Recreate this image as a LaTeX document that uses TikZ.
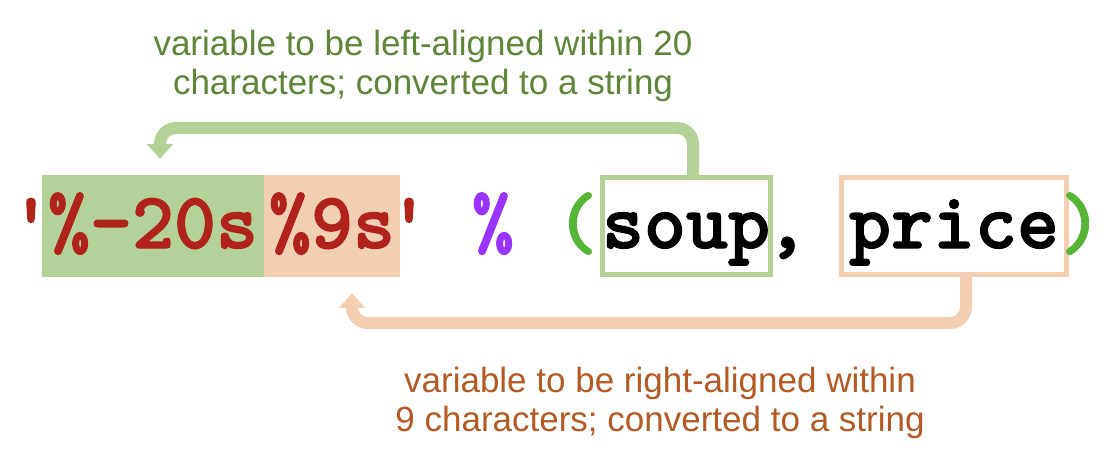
\documentclass[tikz,border=0pt]{standalone}
\usepackage{fontspec}
\setmainfont{Liberation Sans}
\newfontfamily\codefont{lmmonolt10-bold}[Extension=.otf, FakeBold=1.6]
\usetikzlibrary{arrows.meta}

\definecolor{boxgreen}{HTML}{B3D198}
\definecolor{boxpeach}{HTML}{F2CEB3}
\definecolor{codered}{HTML}{B0231A}
\definecolor{oppurple}{HTML}{9933FF}
\definecolor{parengreen}{HTML}{55B534}
\definecolor{notegreen}{HTML}{5E8539}
\definecolor{notebrown}{HTML}{B55A26}

\tikzset{
	code/.style={font=\codefont\fontsize{80}{80}\selectfont, inner sep=0pt, text height=58pt, text depth=14pt},
	note/.style={font=\fontsize{35}{39}\selectfont, align=center, inner sep=0pt},
	noteline/.style={line width=12pt, rounded corners=16pt, -{Triangle[width=26pt,length=15pt]}}
}

\begin{document}
\begin{tikzpicture}[x=1pt, y=1pt]
	\useasboundingbox (0,0) rectangle (1110,456);

	\node [code, text=codered] (q1) at (31,230) {\textquotesingle};
	\node [code, fill=boxgreen, text=codered, minimum width=222pt, minimum height=102pt] (fmtL) at (153,230) {\%-20s};
	\node [code, fill=boxpeach, text=codered, minimum width=136pt, minimum height=102pt] (fmtR) at (332,230) {\%9s};
	\node [code, text=codered] (q2) at (409,230) {\textquotesingle};
	\node [code, text=oppurple] (op) at (493,230) {\%};
	\node [code, text=parengreen] (lp) at (577,230) {(};
	\node [code, draw=boxgreen, line width=5pt, minimum width=167pt, minimum height=97pt] (soup) at (686,230) {soup};
	\node [code] (comma) at (787,230) {,};
	\node [code, draw=boxpeach, line width=5pt, minimum width=225pt, minimum height=97pt] (price) at (954,230) {price};
	\node [code, text=parengreen] (rp) at (1081,230) {)};

	\draw [noteline, boxgreen] ([xshift=7pt]soup.north) -- ++(0,47) -| ([xshift=7pt, yshift=16pt]fmtL.north);
	\draw [noteline, boxpeach] ([xshift=12pt]price.south) -- ++(0,-46) -| ([xshift=20pt, yshift=-16pt]fmtR.south);

	\node [note, text=notegreen, anchor=north] (noteL) at (423,426) {variable to be left-aligned within 20\\characters; converted to a string};
	\node [note, text=notebrown, anchor=north] (noteR) at (660,89) {variable to be right-aligned within\\9 characters; converted to a string};
\end{tikzpicture}
\end{document}
